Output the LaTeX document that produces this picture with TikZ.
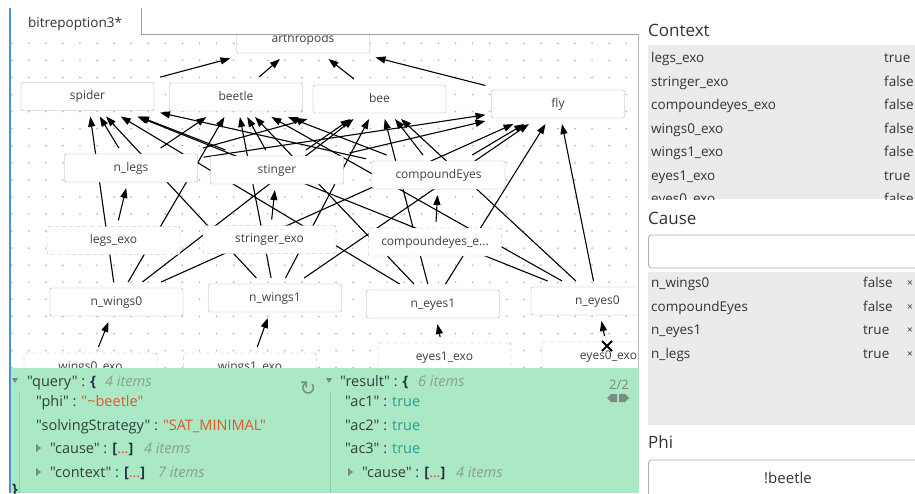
\documentclass[tikz,border=0pt]{standalone}
\usepackage{fontspec}
\setmainfont{Open Sans}[Ligatures=TeXOff]
\newfontfamily\symfont{DejaVu Sans}
\usetikzlibrary{arrows.meta}

\definecolor{nodeline}{HTML}{ADADAD}
\definecolor{labelc}{HTML}{404040}
\definecolor{dotc}{HTML}{B4B4B4}
\definecolor{tabline}{HTML}{A0A0A0}
\definecolor{leftbar}{HTML}{4A90DC}
\definecolor{jsonbg}{HTML}{AAE8C6}
\definecolor{jsonguide}{HTML}{8FCCAA}
\definecolor{keyc}{HTML}{33403B}
\definecolor{bracec}{HTML}{1F3640}
\definecolor{strc}{HTML}{DE5A28}
\definecolor{boolc}{HTML}{2A9D95}
\definecolor{itemc}{HTML}{8A9E94}
\definecolor{iconc}{HTML}{7E8A85}
\definecolor{panelgray}{HTML}{EBEBEB}
\definecolor{paneltext}{HTML}{333333}

\pgfdeclarelayer{dots}
\pgfdeclarelayer{links}
\pgfsetlayers{dots,links,main}

\tikzset{
  gnode/.style={draw=nodeline, fill=white, rounded corners=2pt,
    minimum width=133pt, minimum height=28pt, inner sep=0pt, outer sep=6pt,
    font=\fontsize{12}{14}\selectfont, text=labelc,
    text height=8.5pt, text depth=2.5pt},
  exonode/.style={gnode, dash pattern=on 4pt off 3pt},
  link/.style={draw=black, line width=1.1pt,
    -{Triangle[length=10pt,width=7pt]}},
  txt/.style={anchor=base west, inner sep=0pt},
  jsonf/.style={font=\fontsize{14.5}{16}\selectfont},
  panelf/.style={font=\fontsize{13.5}{15}\selectfont, text=paneltext},
  headf/.style={font=\fontsize{17}{19}\selectfont, text=paneltext},
}

\newcommand{\jkey}[1]{{\color{keyc}"#1" : }}
\newcommand{\jstr}[1]{{\color{strc}"#1"}}
\newcommand{\jarr}{{\color{bracec}\bfseries[}{\color{strc}\dots}{\color{bracec}\bfseries]}}

\begin{document}
\begin{tikzpicture}[x=1pt,y=-1pt]
\useasboundingbox (0,0) rectangle (915,493);

% white page and dotted canvas grid
\begin{pgfonlayer}{dots}
  \fill[white] (0,0) rectangle (915,493);
  \foreach \i in {0,...,36}
    \foreach \j in {0,...,19}
      \fill[dotc] ({11.7+17.07*\i},{43.3+17.07*\j}) circle (0.95);
\end{pgfonlayer}

% causal graph nodes
\node[gnode] (arth) at (303,39) {arthropods};
\node[gnode] (spider) at (87.5,96.5) {spider};
\node[gnode] (beetle) at (236,97) {beetle};
\node[gnode] (bee) at (379.5,99) {bee};
\node[gnode] (fly) at (558,104) {fly};
\node[gnode] (nlegs) at (131,168) {n\_legs};
\node[gnode] (stinger) at (277,170) {stinger};
\node[gnode] (ceyes) at (438.5,175) {compoundEyes};
\node[exonode] (legsexo) at (113.5,240.5) {legs\_exo};
\node[exonode] (stingexo) at (269.5,239.5) {stringer\_exo};
\node[exonode] (ceyesexo) at (435,242) {compoundeyes\_e...};
\node[gnode] (nw0) at (116.5,302) {n\_wings0};
\node[gnode] (nw1) at (275,298) {n\_wings1};
\node[gnode] (ne1) at (433,304) {n\_eyes1};
\node[gnode] (ne0) at (597.5,301) {n\_eyes0};
\node[exonode] (w0exo) at (90.5,367) {wings0\_exo};
\node[exonode] (w1exo) at (250,367) {wings1\_exo};
\node[exonode] (e1exo) at (444.5,357) {eyes1\_exo};
\node[exonode] (e0exo) at (608.5,356) {eyes0\_exo};

% dependencies
\begin{pgfonlayer}{links}
  \foreach \a in {spider,beetle,bee,fly}
    \draw[link] (\a) -- (arth);
  \foreach \a in {spider,beetle,bee,fly}
    \foreach \s in {nlegs,stinger,ceyes,nw0,nw1,ne1,ne0}
      \draw[link] (\s) -- (\a);
  \draw[link] (legsexo) -- (nlegs);
  \draw[link] (stingexo) -- (stinger);
  \draw[link] (ceyesexo) -- (ceyes);
  \draw[link] (w0exo) -- (nw0);
  \draw[link] (w1exo) -- (nw1);
  \draw[link] (e1exo) -- (ne1);
  \draw[link] (e0exo) -- (ne0);
\end{pgfonlayer}

% cursor mark
\draw[line width=1.8pt] (602,341) -- (612,351) (602,351) -- (612,341);

% tab strip
\fill[white] (141,0) rectangle (640,34.5);
\fill[white] (10,0) rectangle (141,8);
\draw[tabline, line width=0.8pt] (141,8) -- (141,34.5) -- (640,34.5);
\node[txt, font=\fontsize{13.5}{15}\selectfont, text=paneltext] (tab) at (28,27) {bitrepoption3*};

% right-hand panel background and separator
\fill[white] (638.5,0) rectangle (915,493);
\draw[tabline!70, line width=0.8pt] (638.5,34.5) -- (638.5,368);

% JSON viewer
\fill[jsonbg] (10,368) rectangle (638.5,493);
\draw[jsonguide, line width=0.8pt] (19,392) -- (19,493);
\draw[jsonguide, line width=0.8pt] (330,392) -- (330,493);
\draw[leftbar, line width=1.6pt] (10,8) -- (10,493);

\fill[iconc] (12,378) -- (18,378) -- (15,383) -- cycle;
\node[txt, jsonf] (q1) at (27,386) {\jkey{query}{\color{bracec}\bfseries\{}};
\node[txt, jsonf, text=itemc] (q1n) at (105,386) {\itshape 4 items};
\node[font=\symfont\fontsize{20}{20}\selectfont, text=iconc, inner sep=0pt] (reload) at (308,389) {↻};
\node[txt, jsonf] (q2) at (36,406) {\jkey{phi}\jstr{\textasciitilde beetle}};
\node[txt, jsonf] (q3) at (36,430) {\jkey{solvingStrategy}\jstr{SAT\_MINIMAL}};
\fill[iconc] (36,444) -- (41,448) -- (36,452) -- cycle;
\node[txt, jsonf] (q4) at (50,453) {\jkey{cause}\jarr};
\node[txt, jsonf, text=itemc] (q4n) at (144,453) {\itshape 4 items};
\fill[iconc] (36,468) -- (41,472) -- (36,476) -- cycle;
\node[txt, jsonf] (q5) at (50,477) {\jkey{context}\jarr};
\node[txt, jsonf, text=itemc] (q5n) at (158,477) {\itshape 7 items};
\node[txt, jsonf, text=bracec] (q6) at (12,494) {\bfseries\}};

\fill[iconc] (326,378) -- (332,378) -- (329,383) -- cycle;
\node[txt, jsonf] (r1) at (340,386) {\jkey{result}{\color{bracec}\bfseries\{}};
\node[txt, jsonf, text=itemc] (r1n) at (418,386) {\itshape 6 items};
\node[txt, jsonf] (r2) at (345,406) {\jkey{ac1}{\color{boolc}true}};
\node[txt, jsonf] (r3) at (345,430) {\jkey{ac2}{\color{boolc}true}};
\node[txt, jsonf] (r4) at (345,453) {\jkey{ac3}{\color{boolc}true}};
\fill[iconc] (348,468) -- (353,472) -- (348,476) -- cycle;
\node[txt, jsonf] (r5) at (362,477) {\jkey{cause}\jarr};
\node[txt, jsonf, text=itemc] (r5n) at (456,477) {\itshape 4 items};

\node[anchor=base east, inner sep=0pt, font=\fontsize{13}{15}\selectfont, text=iconc] (page) at (629,389) {2/2};
\fill[iconc] (607,398) -- (611,394) -- (617,394) -- (617,402) -- (611,402) -- cycle;
\fill[iconc] (619,394) -- (625,394) -- (629,398) -- (625,402) -- (619,402) -- cycle;

% Context list
\node[txt, headf] (ctxhead) at (648,36) {Context};
\fill[panelgray] (648,45) rectangle (915,199);
\begin{scope}
  \clip (648,45) rectangle (915,199);
  \foreach \n/\v [count=\k from 0] in {legs\_exo/true, stringer\_exo/false,
      compoundeyes\_exo/false, wings0\_exo/false, wings1\_exo/false,
      eyes1\_exo/true, eyes0\_exo/false} {
    \node[txt, panelf] at (651,{62.9+23.5*\k}) {\n};
    \node[txt, panelf] at (884,{62.9+23.5*\k}) {\v};
  }
\end{scope}

% Cause list
\node[txt, headf] (causehead) at (648,224) {Cause};
\draw[nodeline, fill=white, rounded corners=3pt, line width=0.9pt] (648.5,235) rectangle (922,268);
\fill[panelgray] (648,272) rectangle (915,425);
\foreach \n/\v [count=\k from 0] in {n\_wings0/false, compoundEyes/false,
    n\_eyes1/true, n\_legs/true} {
  \node[txt, panelf] at (651,{287.9+23.5*\k}) {\n};
  \node[txt, panelf] at (863,{287.9+23.5*\k}) {\v};
  \node[txt, font=\fontsize{10}{12}\selectfont, text=paneltext] at (907,{286.9+23.5*\k}) {×};
}

% Phi field
\node[txt, headf] (phihead) at (648,448) {Phi};
\draw[nodeline, fill=white, rounded corners=3pt, line width=0.9pt] (648.5,460) rectangle (922,505);
\node[font=\fontsize{15}{17}\selectfont, text=paneltext, inner sep=0pt, anchor=base] (phival) at (788,483.5) {!beetle};
\end{tikzpicture}
\end{document}
